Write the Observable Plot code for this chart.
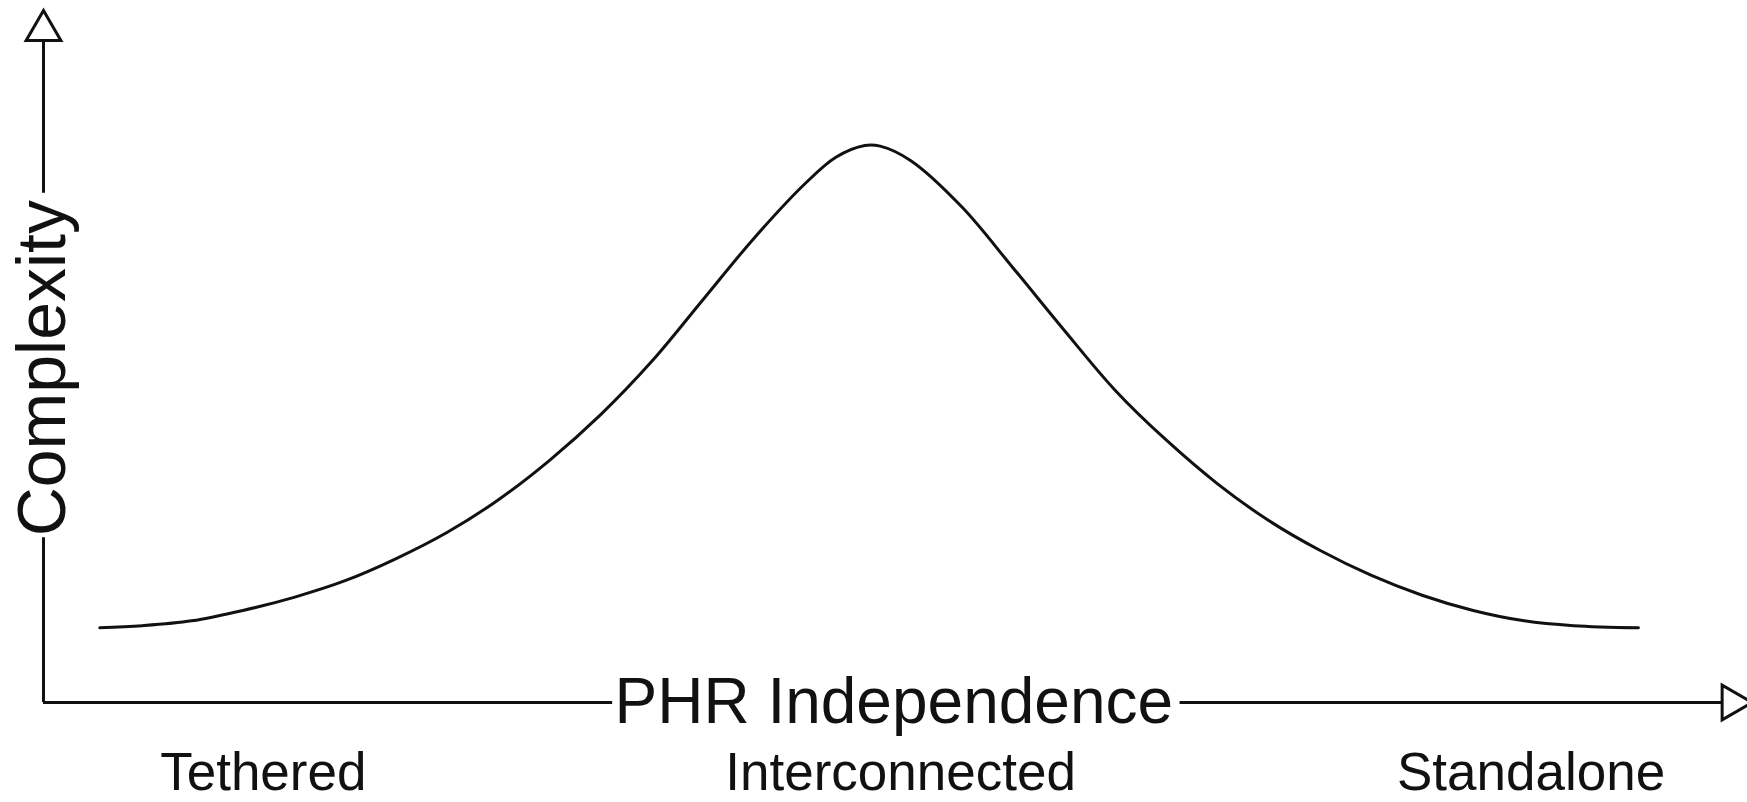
<!DOCTYPE html>
<html>
<head>
<meta charset="utf-8">
<script src="https://cdn.jsdelivr.net/npm/d3@7"></script>
<script src="https://cdn.jsdelivr.net/npm/@observablehq/plot@0.6"></script>
<style>
  html, body { margin: 0; padding: 0; background: #ffffff; }
  #chart { width: 1747px; height: 802px; overflow: hidden; }
</style>
</head>
<body>
<div id="chart"></div>
<script>
// ---- Data (x: PHR independence, y: complexity; both 0–100) ----
const curveX = [3.3, 5.8, 8.7, 11.7, 14.7, 17.7, 20.7, 23.7, 26.7, 29.7, 32.7, 35.7, 38.7, 41.7, 44.7, 46.5, 48.2,
                49.1, 50.9, 53.9, 56.9, 59.9, 62.9, 65.9, 68.9, 71.9, 74.9, 77.9, 80.9, 83.9, 86.9, 89.8, 93.6];
const curveY = [10.8, 11.1, 11.8, 13.3, 15.2, 17.6, 20.8, 24.6, 29.3, 35.0, 41.6, 49.3, 58.2, 67.1, 75.0, 78.8, 80.5,
                80.4, 78.3, 71.6, 62.8, 53.8, 45.1, 37.9, 31.6, 26.3, 22.0, 18.4, 15.5, 13.3, 11.8, 11.1, 10.8];

const xTickPositions = [12.9, 50.3, 87.3];
const xTickLabels = ["Tethered", "Interconnected", "Standalone"];

const xTitle = "PHR Independence";
const yTitle = "Complexity";

// ---- Build table for the library ----
const curve = curveX.map((x, i) => ({x, y: curveY[i]}));

const ink = "#111111";
const font = "'Liberation Sans', Arial, Helvetica, sans-serif";

const chart = Plot.plot({
  width: 1747,
  height: 802,
  marginLeft: 43,
  marginRight: 0,
  marginTop: 10,
  marginBottom: 100,
  style: {background: "#ffffff", fontFamily: font, color: ink},
  x: {domain: [0, 100], axis: null},
  y: {domain: [0, 100], axis: null},
  marks: [
    // axis lines
    Plot.ruleY([0], {x1: 0, x2: 98.5, stroke: ink, strokeWidth: 3}),
    Plot.ruleX([0], {y1: 0, y2: 95.7, stroke: ink, strokeWidth: 3}),
    // gaps behind the axis titles
    Plot.ruleY([0], {x1: 33.4, x2: 66.7, stroke: "#ffffff", strokeWidth: 8}),
    Plot.ruleX([0], {y1: 23.8, y2: 73.6, stroke: "#ffffff", strokeWidth: 8}),
    // hollow arrowheads
    Plot.dot([{x: 0, y: 97.1, r: 0}, {x: 99.1, y: 0, r: 90}], {
      x: "x", y: "y", rotate: "r", symbol: "triangle", r: 12.9,
      fill: "#ffffff", stroke: ink, strokeWidth: 3
    }),
    // the curve
    Plot.line(curve, {x: "x", y: "y", curve: "catmull-rom", stroke: ink, strokeWidth: 3}),
    // axis titles
    Plot.text([xTitle], {x: 49.9, y: 0, text: d => d, fontSize: 64, fill: ink, textAnchor: "middle", lineAnchor: "middle"}),
    Plot.text([yTitle], {x: 0, y: 48.6, text: d => d, fontSize: 68, fill: ink, rotate: -90, textAnchor: "middle", lineAnchor: "middle", dy: 2}),
    // category tick labels along x
    Plot.axisX({
      ticks: xTickPositions,
      tickFormat: d => xTickLabels[xTickPositions.indexOf(d)],
      tickSize: 0,
      tickPadding: 50,
      fontSize: 53,
      fill: ink,
      label: null
    })
  ]
});

document.getElementById("chart").appendChild(chart);
</script>
</body>
</html>
